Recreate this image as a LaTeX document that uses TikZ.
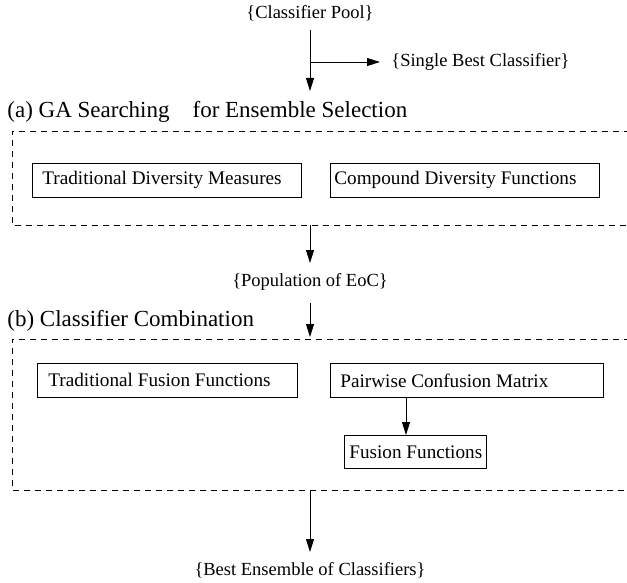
\documentclass[tikz,border=0pt]{standalone}
\usepackage{fontspec}
\setmainfont{Liberation Serif}
\usetikzlibrary{arrows.meta}
\tikzset{
  box/.style={draw, rectangle, inner sep=0pt, anchor=north west},
  boxtext/.style={inner sep=0pt, anchor=west, font=\fontsize{19.2}{21}\selectfont},
  flow/.style={-{Triangle[length=13pt,width=8pt]}},
  frame/.style={dashed, dash pattern=on 6pt off 5pt},
  plain/.style={inner sep=0pt},
  head/.style={inner sep=0pt, anchor=west, font=\fontsize{23}{25}\selectfont},
}
\begin{document}
\begin{tikzpicture}[x=1pt, y=-1pt, line width=0.8pt, font=\fontsize{18.5}{20}\selectfont]
                \useasboundingbox (0, 0) rectangle (627, 583);

                %%input pool
                \node[plain] (pool) at (310, 13){\{Classifier Pool\}};
                \coordinate (poolstart) at (310, 30);
                \coordinate (branch) at (310, 62);
                \coordinate (poolend) at (310, 91);
                \node[plain, anchor=west] (single) at (391, 62){\{Single Best Classifier\}};
                \coordinate (singlein) at (380, 62);
                \draw[flow] (poolstart) to (poolend);
                \draw[flow] (branch) to (singlein);

                %%GA searching
                \node[head] (ga) at (7, 112){(a) GA Searching\quad for Ensemble Selection};
                \draw[frame](630, 131) -- (12, 131) -- (12, 225) -- (630, 225);
                \node[box, minimum width=269pt, minimum height=34pt] (tdm) at (32, 163){};
                    \node[boxtext] at ([xshift=10pt]tdm.west){Traditional Diversity Measures};
                \node[box, minimum width=269pt, minimum height=34pt] (cdf) at (330, 163){};
                    \node[boxtext] at ([xshift=4pt]cdf.west){Compound Diversity Functions};

                \coordinate (gaout) at (310, 225);
                \coordinate (gatip) at (310, 263);
                \node[plain] (eoc) at (310, 282){\{Population of EoC\}};
                \draw[flow] (gaout) to (gatip);

                %%classifier combination
                \node[head] (cc) at (7, 321){(b) Classifier Combination};
                \coordinate (ccin) at (310, 303);
                \coordinate (cctop) at (310, 337);
                \draw[flow] (ccin) to (cctop);
                \draw[frame](630, 339) -- (12, 339) -- (12, 490) -- (630, 490);
                \node[box, minimum width=260pt, minimum height=34pt] (tff) at (37, 363){};
                    \node[boxtext] at ([xshift=11pt]tff.west){Traditional Fusion Functions};
                \node[box, minimum width=273pt, minimum height=34pt] (pcm) at (330, 363){};
                    \node[boxtext] at ([xshift=10pt]pcm.west){Pairwise Confusion Matrix};
                \node[box, minimum width=142pt, minimum height=33pt] (ff) at (344, 435){};
                    \node[boxtext] at ([xshift=5pt]ff.west){Fusion Functions};
                \draw[flow] (pcm.south -| 406, 0) to (ff.north -| 406, 0);

                %%output
                \coordinate (ccout) at (310, 490);
                \coordinate (besttip) at (310, 552);
                \node[plain] (best) at (310, 570){\{Best Ensemble of Classifiers\}};
                \draw[flow] (ccout) to (besttip);
\end{tikzpicture}
\end{document}
